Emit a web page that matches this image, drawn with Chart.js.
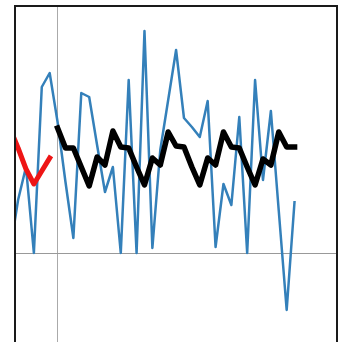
<!DOCTYPE html>
<html>
<head>
<meta charset="utf-8">
<script src="https://cdn.jsdelivr.net/npm/chart.js@4/dist/chart.umd.min.js"></script>
<style>
  html, body { margin: 0; padding: 0; background: #fff; overflow: hidden; }
  canvas { display: block; }
</style>
</head>
<body>
<canvas id="c" width="343" height="342"></canvas>
<script>
// Day index for every sample of the observed series
const days = [-2, -1, 0, 1, 2, 3, 4, 5, 6, 7, 8, 9, 10, 11, 12, 13, 14, 15, 16,
  17, 18, 19, 20, 21, 22, 23, 24, 25, 26, 27, 28, 29, 30, 31, 32, 33, 34];

// Observed values (blue)
const observed = [1.5, 26.5, 43, 0, 83, 90, 65.5, 35.5, 7.5, 80, 78, 54, 30.5, 43,
  0, 86.5, 0, 111, 2.5, 51.5, 76.5, 101.5, 67.5, 63, 58, 76, 3, 34.5, 24, 68, 0,
  86.5, 36.5, 71, 21, -28.5, 26];

// In-sample fit (red), days -2 .. 3
const fitDays = [-2, -1, 0, 1, 2, 3];
const fitted = [62, 52.5, 42, 34.5, 41, 47.5];

// Forecast (black), days 4 .. 34
const forecastDays = [4, 5, 6, 7, 8, 9, 10, 11, 12, 13, 14, 15, 16, 17, 18, 19,
  20, 21, 22, 23, 24, 25, 26, 27, 28, 29, 30, 31, 32, 33, 34];
const forecast = [62.5, 52.5, 52.5, 43, 33.5, 48, 44, 61, 53, 52.5, 43, 34, 47.5,
  44, 60.5, 53.5, 53, 43, 34, 47.5, 44, 60.5, 53, 52.5, 43, 34, 47, 44, 60.5, 53, 53];

// Reference lines: forecast start and zero level
const forecastStart = 4;
const zeroLevel = 0;

const pairs = (xs, ys) => xs.map((x, i) => ({ x, y: ys[i] }));

// Frame on the left, top and right edges of the plot area
const framePlugin = {
  id: 'frame',
  afterDraw(chart) {
    const { ctx, chartArea: a } = chart;
    ctx.save();
    ctx.strokeStyle = '#1a1a1a';
    ctx.lineWidth = 2;
    ctx.beginPath();
    ctx.moveTo(a.left, chart.height + 2);
    ctx.lineTo(a.left, a.top);
    ctx.lineTo(a.right, a.top);
    ctx.lineTo(a.right, chart.height + 2);
    ctx.stroke();
    ctx.restore();
  }
};

new Chart(document.getElementById('c'), {
  type: 'line',
  data: {
    datasets: [
      {
        data: pairs(forecastDays, forecast),
        borderColor: '#000000',
        borderWidth: 5.5,
        borderJoinStyle: 'round',
        borderCapStyle: 'square',
        pointRadius: 0,
        tension: 0,
        clip: 0,
        order: 0
      },
      {
        data: pairs(fitDays, fitted),
        borderColor: '#ee1515',
        borderWidth: 5,
        borderJoinStyle: 'round',
        borderCapStyle: 'square',
        pointRadius: 0,
        tension: 0,
        clip: 0,
        order: 1
      },
      {
        data: pairs(days, observed),
        borderColor: '#3480ba',
        borderWidth: 2.5,
        borderJoinStyle: 'round',
        pointRadius: 0,
        tension: 0,
        clip: 0,
        order: 2
      }
    ]
  },
  options: {
    responsive: false,
    animation: false,
    events: [],
    layout: { padding: { left: 15, right: 6, top: 6, bottom: 0 } },
    plugins: { legend: { display: false }, tooltip: { enabled: false } },
    scales: {
      x: {
        type: 'linear',
        min: -1.39,
        max: 39.37,
        afterBuildTicks: (s) => { s.ticks = [{ value: forecastStart }]; },
        ticks: { display: false },
        grid: { color: '#aaaaaa', lineWidth: 1, drawTicks: false },
        border: { display: false }
      },
      y: {
        type: 'linear',
        min: -44.5,
        max: 123.5,
        afterBuildTicks: (s) => { s.ticks = [{ value: zeroLevel }]; },
        ticks: { display: false },
        grid: { color: '#999999', lineWidth: 1, drawTicks: false },
        border: { display: false }
      }
    }
  },
  plugins: [framePlugin]
});
</script>
</body>
</html>
